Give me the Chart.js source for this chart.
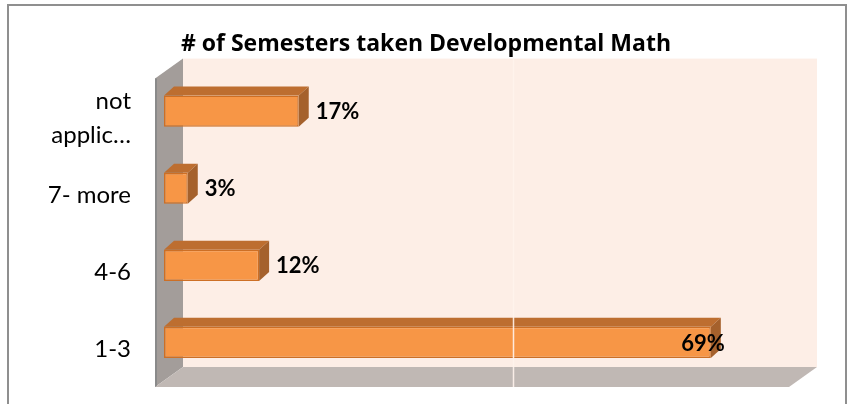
<!DOCTYPE html>
<html>
<head>
<meta charset="utf-8">
<script src="https://cdn.jsdelivr.net/npm/chart.js@4.4.1/dist/chart.umd.min.js"></script>
<style>
  html, body { margin: 0; padding: 0; background: #fff; overflow: hidden; }
  #wrap { position: relative; width: 852px; height: 404px; }
  #frame { position: absolute; left: 7px; top: 4px; width: 836px; height: 430px; border: 2px solid #8f8f8f; pointer-events: none; }
  canvas { position: absolute; left: 0; top: 0; }
</style>
</head>
<body>
<div id="wrap">
  <canvas id="chart" width="852" height="404"></canvas>
  <div id="frame"></div>
</div>
<script>
// data
const categorias = [["not", "applic…"], "7- more", "4-6", "1-3"];
const valores = [17, 3, 12, 69];
const titulo = "# of Semesters taken Developmental Math";
const eixoMax = 80;
const linhaGrade = 40;

// 3D look (pixels)
const profBarra = { dx: 10, dy: -9 };
const fundo = { dx: 19, dy: -14 };
const frente = { dx: -9, dy: 6 };

const efeito3d = {
  id: "efeito3d",
  beforeDatasetsDraw(chart) {
    const { ctx, chartArea: ca } = chart;
    ctx.save();
    // parede do fundo
    ctx.fillStyle = "#fdeee6";
    ctx.fillRect(ca.left + fundo.dx, ca.top + fundo.dy, ca.right - ca.left, ca.bottom - ca.top);
    // parede lateral
    ctx.fillStyle = "#a39d9a";
    ctx.beginPath();
    ctx.moveTo(ca.left + frente.dx, ca.top + frente.dy);
    ctx.lineTo(ca.left + fundo.dx, ca.top + fundo.dy);
    ctx.lineTo(ca.left + fundo.dx, ca.bottom + fundo.dy);
    ctx.lineTo(ca.left + frente.dx, ca.bottom + frente.dy);
    ctx.closePath();
    ctx.fill();
    ctx.strokeStyle = "#8a8a8a";
    ctx.lineWidth = 2;
    ctx.beginPath();
    ctx.moveTo(ca.left + frente.dx + 1, ca.top + frente.dy);
    ctx.lineTo(ca.left + frente.dx + 1, ca.bottom + frente.dy);
    ctx.stroke();
    // piso
    ctx.fillStyle = "#c0b8b4";
    ctx.beginPath();
    ctx.moveTo(ca.left + frente.dx, ca.bottom + frente.dy);
    ctx.lineTo(ca.left + fundo.dx, ca.bottom + fundo.dy);
    ctx.lineTo(ca.right + fundo.dx, ca.bottom + fundo.dy);
    ctx.lineTo(ca.right + frente.dx, ca.bottom + frente.dy);
    ctx.closePath();
    ctx.fill();
    ctx.restore();
  },
  afterDatasetsDraw(chart) {
    const { ctx, chartArea: ca } = chart;
    const meta = chart.getDatasetMeta(0);
    const xs = chart.scales.x;
    ctx.save();
    meta.data.forEach((bar, i) => {
      const p = bar.getProps(["x", "y", "base", "height"], true);
      const top = p.y - p.height / 2;
      const bottom = p.y + p.height / 2;
      // face de cima
      ctx.fillStyle = "#bd6e30";
      ctx.beginPath();
      ctx.moveTo(p.base, top);
      ctx.lineTo(p.base + profBarra.dx, top + profBarra.dy);
      ctx.lineTo(p.x + profBarra.dx, top + profBarra.dy);
      ctx.lineTo(p.x, top);
      ctx.closePath();
      ctx.fill();
      // face lateral
      ctx.fillStyle = "#a5612c";
      ctx.beginPath();
      ctx.moveTo(p.x, top);
      ctx.lineTo(p.x + profBarra.dx, top + profBarra.dy);
      ctx.lineTo(p.x + profBarra.dx, bottom + profBarra.dy);
      ctx.lineTo(p.x, bottom);
      ctx.closePath();
      ctx.fill();
    });

    // linha de grade (passa por cima, como no original)
    const gx = Math.round(xs.getPixelForValue(linhaGrade) + fundo.dx + 13) + 0.5;
    ctx.strokeStyle = "rgba(255,243,236,0.9)";
    ctx.lineWidth = 1.5;
    ctx.beginPath();
    ctx.moveTo(gx, ca.top + fundo.dy);
    ctx.lineTo(gx, ca.bottom + frente.dy);
    ctx.stroke();

    // rótulos de valor
    ctx.font = "bold 22px Lato";
    ctx.fillStyle = "#000";
    ctx.textBaseline = "middle";
    meta.data.forEach((bar, i) => {
      const p = bar.getProps(["x", "y"], true);
      const texto = valores[i] + "%";
      if (valores[i] > 50) {
        ctx.textAlign = "right";
        ctx.fillText(texto, p.x + profBarra.dx + 4, p.y + 1);
      } else {
        ctx.textAlign = "left";
        ctx.fillText(texto, p.x + profBarra.dx + 7, p.y + 1);
      }
    });
    ctx.restore();
  }
};

const ctx = document.getElementById("chart").getContext("2d");
new Chart(ctx, {
  type: "bar",
  data: {
    labels: categorias,
    datasets: [{
      data: valores,
      backgroundColor: "#f79646",
      borderColor: "#cd6f25",
      borderWidth: 1.5,
      borderSkipped: false,
      barPercentage: 0.405,
      categoryPercentage: 1
    }]
  },
  options: {
    indexAxis: "y",
    responsive: false,
    devicePixelRatio: 1,
    animation: false,
    layout: { padding: { left: 0, right: 0, top: 0, bottom: 23 } },
    plugins: {
      legend: { display: false },
      tooltip: { enabled: false },
      title: {
        display: true,
        text: titulo,
        color: "#000",
        font: { family: "Open Sans", size: 23, weight: "bold", lineHeight: 1.2 },
        padding: { top: 31, bottom: 14 }
      }
    },
    scales: {
      x: { display: false, min: 0, max: eixoMax },
      y: {
        grid: { display: false, drawTicks: false },
        border: { display: false },
        afterFit: s => {
          s.width = 164;
          s.paddingTop = 0;
          s.paddingBottom = 0;
        },
        ticks: {
          color: "#000",
          padding: 33,
          labelOffset: 7,
          crossAlign: "near",
          font: { family: "Lato", size: 24, lineHeight: 1.4 }
        }
      },
      // eixo vazio à direita, só para reservar a margem
      margemDir: {
        type: "category",
        position: "right",
        grid: { display: false, drawTicks: false },
        border: { display: false },
        ticks: { display: false },
        afterFit: s => {
          s.width = 54;
          s.paddingTop = 0;
          s.paddingBottom = 0;
        }
      }
    }
  },
  plugins: [efeito3d]
});
</script>
</body>
</html>
